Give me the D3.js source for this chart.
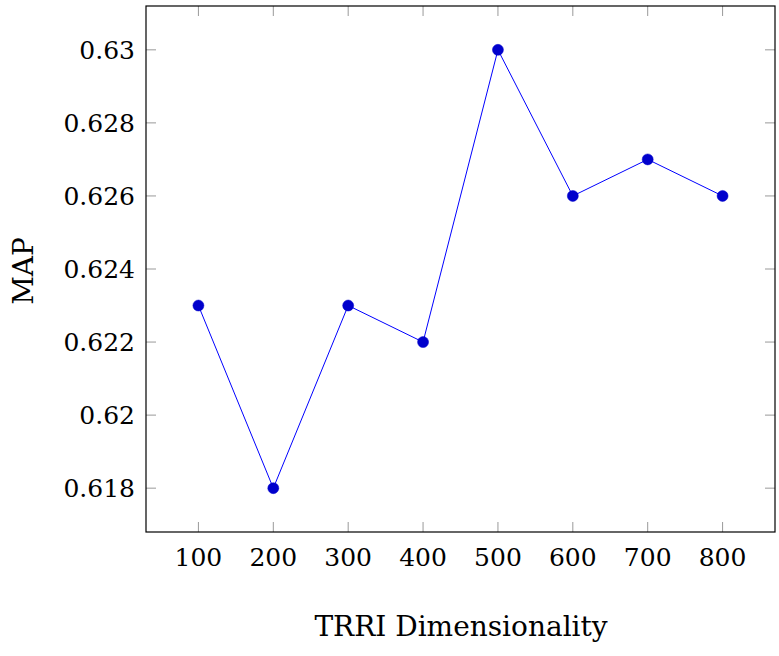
<!DOCTYPE html>
<html>
<head>
<meta charset="utf-8">
<script src="https://cdn.jsdelivr.net/npm/d3@7"></script>
<style>
  body { margin: 0; background: #fff; }
  text { font-family: "DejaVu Serif", serif; fill: #000; }
</style>
</head>
<body>
<div id="chart"></div>
<script>
const dims = [100, 200, 300, 400, 500, 600, 700, 800];
const mapValues = [0.623, 0.618, 0.623, 0.622, 0.630, 0.626, 0.627, 0.626];
const yTicks = [0.618, 0.62, 0.622, 0.624, 0.626, 0.628, 0.63];
const yTickLabels = ['0.618', '0.62', '0.622', '0.624', '0.626', '0.628', '0.63'];

const width = 779, height = 656;
const plot = { left: 146, right: 775, top: 6, bottom: 532 };
const tickFont = 25;
const titleFont = 28;

const svg = d3.select('#chart').append('svg')
        .attr('width', width)
        .attr('height', height);

// pgfplots-style 10% enlargement of limits
const x = d3.scaleLinear().domain([30, 870]).range([plot.left, plot.right]);
const y = d3.scaleLinear().domain([0.6168, 0.6312]).range([plot.bottom, plot.top]);

const tickLen = 10;
const g = svg.append('g');

// ticks on all four sides, pointing inward
dims.forEach(d => {
        g.append('line').attr('x1', x(d)).attr('x2', x(d))
                .attr('y1', plot.bottom).attr('y2', plot.bottom - tickLen)
                .attr('stroke', '#999').attr('stroke-width', 1);
        g.append('line').attr('x1', x(d)).attr('x2', x(d))
                .attr('y1', plot.top).attr('y2', plot.top + tickLen)
                .attr('stroke', '#999').attr('stroke-width', 1);
        g.append('text').attr('x', x(d)).attr('y', 566)
                .attr('text-anchor', 'middle').attr('font-size', tickFont)
                .text(d);
});

yTicks.forEach((v, i) => {
        g.append('line').attr('x1', plot.left).attr('x2', plot.left + tickLen)
                .attr('y1', y(v)).attr('y2', y(v))
                .attr('stroke', '#999').attr('stroke-width', 1);
        g.append('line').attr('x1', plot.right).attr('x2', plot.right - tickLen)
                .attr('y1', y(v)).attr('y2', y(v))
                .attr('stroke', '#999').attr('stroke-width', 1);
        g.append('text').attr('x', 135).attr('y', y(v))
                .attr('dy', '0.36em')
                .attr('text-anchor', 'end').attr('font-size', tickFont)
                .text(yTickLabels[i]);
});

// frame
g.append('rect')
        .attr('x', plot.left).attr('y', plot.top)
        .attr('width', plot.right - plot.left).attr('height', plot.bottom - plot.top)
        .attr('fill', 'none').attr('stroke', '#000').attr('stroke-width', 1.2);

const pts = dims.map((d, i) => [d, mapValues[i]]);

svg.append('path')
        .datum(pts)
        .attr('d', d3.line().x(p => x(p[0])).y(p => y(p[1])))
        .attr('fill', 'none')
        .attr('stroke', '#0000ff')
        .attr('stroke-width', 1);

svg.selectAll('circle.pt').data(pts).enter().append('circle')
        .attr('class', 'pt')
        .attr('cx', p => x(p[0]))
        .attr('cy', p => y(p[1]))
        .attr('r', 5.5)
        .attr('fill', '#0000cc')
        .attr('stroke', '#0000cc')
        .attr('stroke-width', 0.5);

// axis titles
svg.append('text').attr('x', (plot.left + plot.right) / 2 + 0.5).attr('y', 636)
        .attr('text-anchor', 'middle').attr('font-size', titleFont)
        .text('TRRI Dimensionality');

svg.append('text')
        .attr('transform', `translate(33, ${(plot.top + plot.bottom) / 2 + 2}) rotate(-90)`)
        .attr('text-anchor', 'middle').attr('font-size', titleFont)
        .text('MAP');
</script>
</body>
</html>
